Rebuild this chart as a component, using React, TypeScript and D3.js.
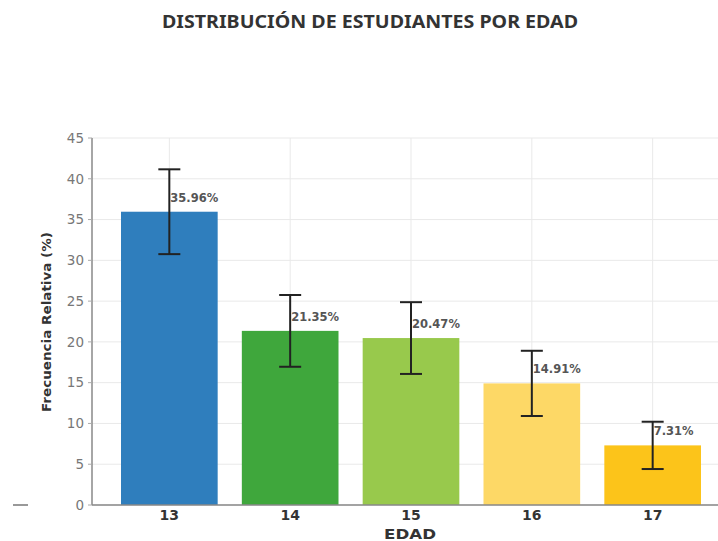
import React from "react";
import * as d3 from "d3";

const categories = ["13", "14", "15", "16", "17"];
const values = [35.96, 21.35, 20.47, 14.91, 7.31];
const errors = [5.2, 4.4, 4.4, 4.0, 2.9];
const colors = ["#2f7ebd", "#3fa73c", "#98c94c", "#fdd866", "#fcc41a"];
const yTicks = [0, 5, 10, 15, 20, 25, 30, 35, 40, 45];

const W = 718;
const H = 541;

export default function App() {
  const x = d3.scaleLinear().domain([-0.64, 4.64]).range([92, 730]);
  const y = d3.scaleLinear().domain([0, 45]).range([505, 138]);
  const bw = x(0.8) - x(0);
  const capHalf = 11;
  return (
    <svg width={W} height={H} style={{ position: "absolute", left: 0, top: 0, background: "#fff" }}>
      <defs>
        <clipPath id="plot">
          <rect x={92} y={130} width={W - 92} height={380} />
        </clipPath>
      </defs>
      <text x={370} y={28} textAnchor="middle" fontFamily="Noto Sans" fontWeight="bold" fontSize={18} textLength={416} lengthAdjust="spacingAndGlyphs" fill="#333">
        DISTRIBUCIÓN DE ESTUDIANTES POR EDAD
      </text>
      <g clipPath="url(#plot)">
        {yTicks.map((t) => (
          <line key={"h" + t} x1={92} x2={W} y1={y(t)} y2={y(t)} stroke="#e9e9e9" strokeWidth={1} />
        ))}
        {categories.map((c, i) => (
          <line key={"v" + c} x1={x(i)} x2={x(i)} y1={138} y2={505} stroke="#e9e9e9" strokeWidth={1} />
        ))}
      </g>
      {values.map((v, i) => (
        <rect key={"b" + i} x={x(i) - bw / 2} y={y(v)} width={bw} height={y(0) - y(v)} fill={colors[i]} />
      ))}
      {values.map((v, i) => (
        <g key={"e" + i} stroke="#222" strokeWidth={2}>
          <line x1={x(i)} x2={x(i)} y1={y(v + errors[i])} y2={y(v - errors[i])} />
          <line x1={x(i) - capHalf} x2={x(i) + capHalf} y1={y(v + errors[i])} y2={y(v + errors[i])} />
          <line x1={x(i) - capHalf} x2={x(i) + capHalf} y1={y(v - errors[i])} y2={y(v - errors[i])} />
        </g>
      ))}
      {values.map((v, i) => (
        <text key={"l" + i} x={x(i) + 1} y={y(v) - 10} fontFamily="DejaVu Sans" fontWeight="bold" fontSize={11.5} fill="#555">
          {v.toFixed(2) + "%"}
        </text>
      ))}
      <line x1={92} x2={92} y1={138} y2={505} stroke="#888" strokeWidth={1.5} />
      <line x1={92} x2={W} y1={505} y2={505} stroke="#888" strokeWidth={1.5} />
      <line x1={13} x2={28} y1={505} y2={505} stroke="#777" strokeWidth={1.5} />
      {yTicks.map((t) => (
        <g key={"yt" + t}>
          <line x1={88} x2={92} y1={y(t)} y2={y(t)} stroke="#aaa" strokeWidth={1} />
          <text x={84} y={y(t)} dy="0.35em" textAnchor="end" fontFamily="DejaVu Sans" fontSize={13.5} fill="#777">
            {t}
          </text>
        </g>
      ))}
      {categories.map((c, i) => (
        <text key={"xt" + c} x={x(i)} y={520} textAnchor="middle" fontFamily="DejaVu Sans" fontWeight="bold" fontSize={14} fill="#333">
          {c}
        </text>
      ))}
      <text x={410} y={539} textAnchor="middle" fontFamily="DejaVu Sans" fontWeight="bold" fontSize={14} textLength={52} lengthAdjust="spacingAndGlyphs" fill="#333">
        EDAD
      </text>
      <text transform="translate(51,322) rotate(-90)" textAnchor="middle" fontFamily="DejaVu Sans" fontWeight="bold" fontSize={13} textLength={180} lengthAdjust="spacingAndGlyphs" fill="#333">
        Frecuencia Relativa (%)
      </text>
    </svg>
  );
}
